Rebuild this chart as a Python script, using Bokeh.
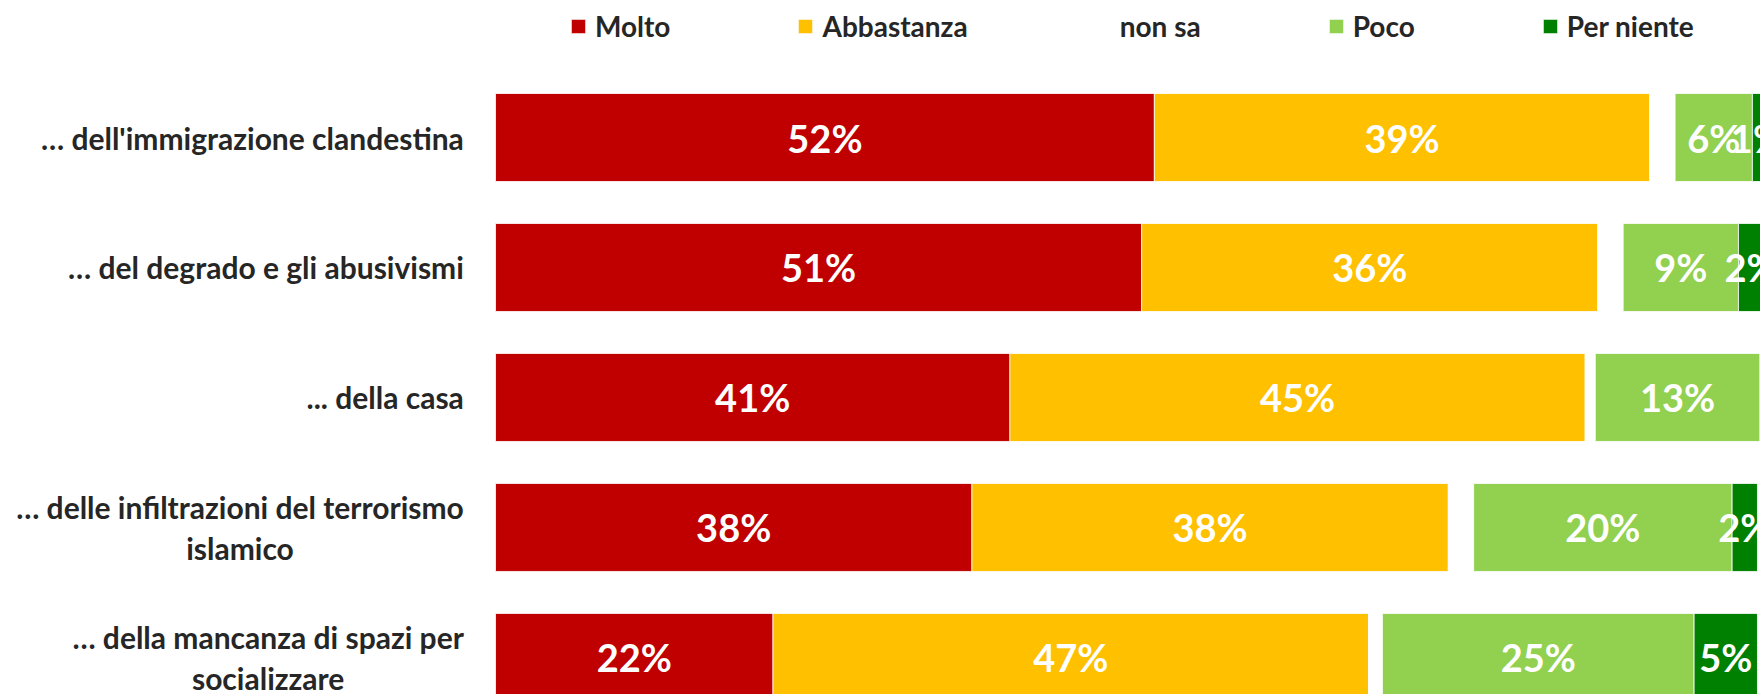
import numpy as np
from bokeh.plotting import figure
from bokeh.models import ColumnDataSource, Range1d, Legend, LegendItem
from bokeh.core.properties import value
from bokeh.embed import file_html
from bokeh.resources import INLINE

# ---- data -------------------------------------------------------------
categories = [
    "\u2026 dell'immigrazione clandestina",
    "\u2026 del degrado e gli abusivismi",
    "... della casa",
    "\u2026 delle infiltrazioni del terrorismo\nislamico",
    "\u2026 della mancanza di spazi per\nsocializzare",
]
series = ["Molto", "Abbastanza", "non sa", "Poco", "Per niente"]
molto = [52.0, 51.0, 40.6, 37.6, 21.9]
abbastanza = [39.1, 36.0, 45.4, 37.6, 47.0]
non_sa = [2.0, 2.0, 0.8, 2.0, 1.1]
poco = [6.1, 9.1, 13.0, 20.4, 24.6]
per_niente = [0.8, 2.0, 0.2, 2.0, 5.0]
colors = ["#C00000", "#FFC000", "#FFFFFF", "#92D050", "#008000"]

# ---- figure -----------------------------------------------------------
W, H = 1760, 694
p = figure(width=W, height=H, output_backend="svg", toolbar_location=None,
           x_range=Range1d(-39.07, 99.84), y_range=Range1d(4.285, -1.054),
           min_border=0)
p.axis.visible = False
p.grid.visible = False
p.outline_line_color = None
p.background_fill_color = "white"
p.border_fill_color = "white"

ypos = np.arange(len(categories))
vals = [molto, abbastanza, non_sa, poco, per_niente]
cum = np.zeros(len(categories))
renderers = []
lab_x, lab_y, lab_t = [], [], []
for name, v, c in zip(series, vals, colors):
    v = np.array(v, dtype=float)
    left = cum.copy()
    right = cum + v
    src = ColumnDataSource(dict(y=ypos, left=left, right=right))
    r = p.hbar(y="y", left="left", right="right", height=0.677, source=src,
               fill_color=c, line_color="white", line_width=0.8)
    renderers.append((name, r))
    if name != "non sa":
        for i in range(len(v)):
            if v[i] >= 0.5:
                lab_x.append((left[i] + right[i]) / 2)
                lab_y.append(ypos[i])
                lab_t.append(f"{int(v[i] + 0.5)}%")
    cum = right

p.text(x=lab_x, y=lab_y, text=lab_t, text_color="white",
       text_font=value("Lato"), text_font_style="bold", text_font_size="38px",
       text_align="center", text_baseline="middle")

# category labels
p.text(x=[-2.5] * len(categories), y=list(ypos), text=categories,
       text_color="#262626", text_font=value("Lato"), text_font_style="bold",
       text_font_size="30px", text_align="center", text_baseline="middle",
       anchor="center_right", text_line_height=1.15)

legend = Legend(items=[LegendItem(label=n, renderers=[r]) for n, r in renderers],
                orientation="horizontal", location=(569, 651))
legend.label_text_font = "Lato"
legend.label_text_font_style = "bold"
legend.label_text_font_size = "28px"
legend.label_text_color = "#262626"
legend.glyph_width = 18
legend.glyph_height = 18
legend.label_standoff = 8
legend.spacing = 126
legend.padding = 0
legend.margin = 0
legend.border_line_color = None
legend.background_fill_alpha = 0
p.add_layout(legend)

open("out.html", "w").write(file_html(p, INLINE))
